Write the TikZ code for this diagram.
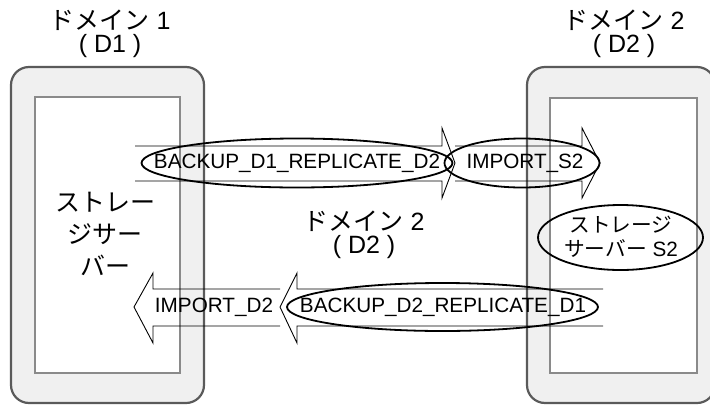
\documentclass[tikz,border=0pt]{standalone}
\usepackage{fontspec}
\setmainfont{Liberation Sans}
\newfontfamily\jp{Noto Sans CJK JP}
\definecolor{boxfill}{HTML}{F0F0F0}
\definecolor{boxline}{HTML}{5A5A5A}
\definecolor{innerline}{HTML}{8A8A8A}
\begin{document}
\begin{tikzpicture}[x=1pt,y=-1pt,
  outerbox/.style={draw=boxline,fill=boxfill,line width=2.2pt,rounded corners=18pt,inner sep=0pt,outer sep=0pt},
  innerbox/.style={draw=innerline,fill=white,line width=2pt,inner sep=0pt,outer sep=0pt},
  blockarrow/.style={draw=black,line width=0.9pt,line join=miter},
  ell/.style={draw=black,line width=1.8pt},
  elabel/.style={font=\fontsize{20.7}{24.5}\selectfont,inner sep=0pt,align=center},
  biglabel/.style={font=\fontsize{25}{23}\selectfont,inner sep=0pt,align=center}]
\useasboundingbox (0,0) rectangle (710,405);
\clip (0,0) rectangle (710,405);
% domain boxes
\node[outerbox,minimum width=193,minimum height=336] (d1) at (107.5,235) {};
\node[innerbox,minimum width=145,minimum height=276] (d1in) at (107.5,235) {};
\node[outerbox,minimum width=188,minimum height=336] (d2) at (621,235) {};
\node[innerbox,minimum width=147,minimum height=275] (d2in) at (623.5,235.5) {};
% titles
\node[biglabel] (lab1) at (110,34) {{\jp ドメイン} 1\\( D1 )};
\node[biglabel] (lab2) at (624,34) {{\jp ドメイン} 2\\( D2 )};
\node[biglabel] (lab3) at (364,235) {{\jp ドメイン} 2\\( D2 )};
\node[font=\fontsize{25}{32}\selectfont\jp,inner sep=0pt,align=center] (srv1) at (105,234) {ストレー\\ジサー\\バー};
% block arrows (open tails)
\draw[blockarrow] (135,146) -- (442,146) -- (442,128) -- (455,163) -- (442,198) -- (442,181) -- (135,181);
\draw[blockarrow] (455,146) -- (582,146) -- (582,128) -- (600,163) -- (582,198) -- (582,181) -- (455,181);
\draw[blockarrow] (603,289) -- (297,289) -- (297,273) -- (280,307) -- (297,343) -- (297,326) -- (603,326);
\draw[blockarrow] (280,289) -- (153,289) -- (153,273) -- (134,307) -- (153,343) -- (153,326) -- (280,326);
% ellipse labels
\node[elabel] (t1) at (297,163) {BACKUP\_D1\_REPLICATE\_D2};
\draw[ell] (t1.center) ellipse [x radius=155.5, y radius=24.5];
\node[elabel] (t2) at (525,163) {IMPORT\_S2};
\draw[ell] (522,163) ellipse [x radius=77.5, y radius=24.5];
\node[elabel] (t3) at (443,307) {BACKUP\_D2\_REPLICATE\_D1};
\draw[ell] (442.5,307) ellipse [x radius=155.5, y radius=24];
\node[elabel] (t4) at (214,307) {IMPORT\_D2};
\node[elabel] (s2) at (621,237) {{\jp ストレージ}\\{\jp サーバー} S2};
\draw[ell] (620.5,237.5) ellipse [x radius=82.5, y radius=32.5];
\end{tikzpicture}
\end{document}
